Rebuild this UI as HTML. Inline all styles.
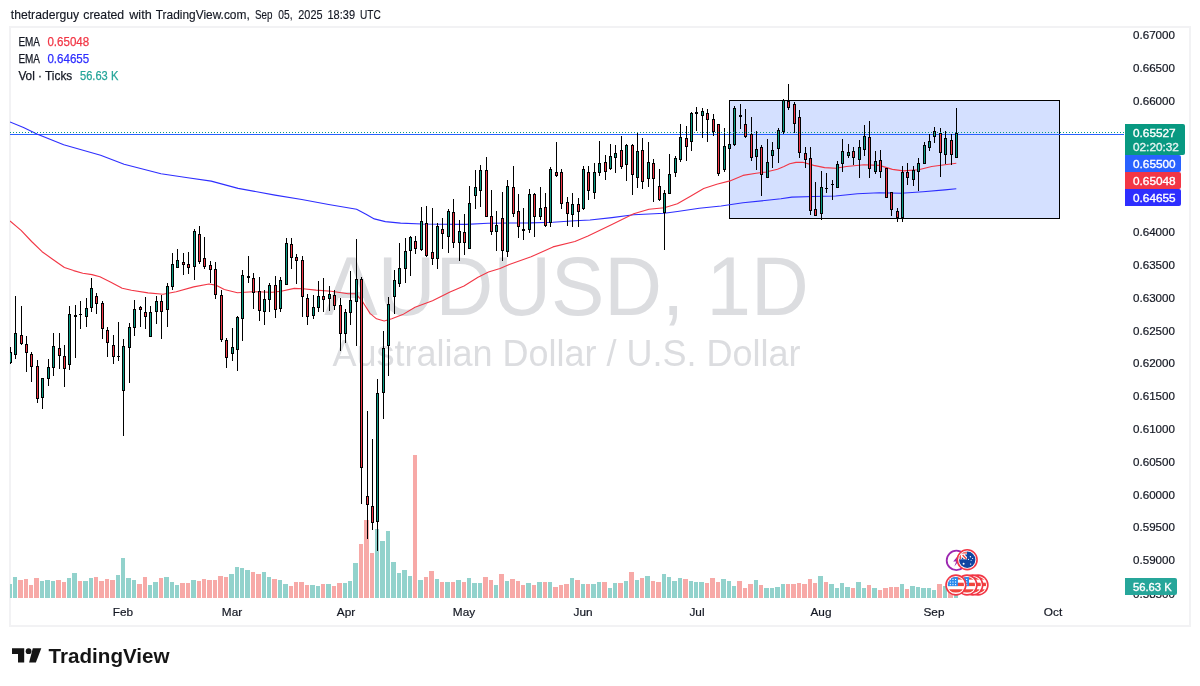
<!DOCTYPE html>
<html lang="en"><head><meta charset="utf-8"><title>AUDUSD 1D - TradingView</title>
<style>
html,body{margin:0;padding:0;background:#fff;}
body{width:1200px;height:686px;overflow:hidden;font-family:"Liberation Sans",sans-serif;}
svg{display:block;}
text{font-family:"Liberation Sans",sans-serif;}
.ax{font-size:11.8px;fill:#131722;stroke:#131722;stroke-width:0.2px;}
.tag{font-size:11.8px;fill:#fff;stroke:#fff;stroke-width:0.35px;}
.lg{font-size:12.4px;fill:#131722;stroke-width:0.25px;}
</style></head><body>
<svg width="1200" height="686" viewBox="0 0 1200 686">
<rect width="1200" height="686" fill="#fff"/>

<text y="18.8" font-size="13" fill="#131722" stroke="#131722" stroke-width="0.15"><tspan x="10.8" textLength="68.4" lengthAdjust="spacingAndGlyphs">thetraderguy</tspan> <tspan x="83.3" textLength="40.9" lengthAdjust="spacingAndGlyphs">created</tspan> <tspan x="129.2" textLength="22.5" lengthAdjust="spacingAndGlyphs">with</tspan> <tspan x="155.8" textLength="93.9" lengthAdjust="spacingAndGlyphs">TradingView.com,</tspan> <tspan x="255" textLength="17.5" lengthAdjust="spacingAndGlyphs">Sep</tspan> <tspan x="278.3" textLength="14.2" lengthAdjust="spacingAndGlyphs">05,</tspan> <tspan x="298.3" textLength="24.2" lengthAdjust="spacingAndGlyphs">2025</tspan> <tspan x="327.5" textLength="27.5" lengthAdjust="spacingAndGlyphs">18:39</tspan> <tspan x="360" textLength="20.8" lengthAdjust="spacingAndGlyphs">UTC</tspan></text>
<rect x="10" y="27" width="1180" height="599" fill="#fff" stroke="#f2f2f4" stroke-width="2" shape-rendering="crispEdges"/>
<defs><clipPath id="cp"><rect x="10" y="28" width="1114" height="597"/></clipPath></defs>
<g clip-path="url(#cp)">
<text transform="translate(566.5,315) scale(1,1.053)" x="0" y="0" font-size="80" text-anchor="middle" fill="#dcdde0">AUDUSD, 1D</text>
<text transform="translate(566.5,365.6) scale(1,1.04)" x="0" y="0" font-size="36" text-anchor="middle" fill="#dcdde0">Australian Dollar / U.S. Dollar</text>
<rect x="729.5" y="100.5" width="330" height="118" fill="#d4e0ff" stroke="#000" stroke-width="1" shape-rendering="crispEdges"/>
<g shape-rendering="crispEdges">
<rect x="7" y="584" width="5" height="14" fill="#92d2cc"/>
<rect x="13" y="577" width="4" height="21" fill="#92d2cc"/>
<rect x="18" y="580" width="5" height="18" fill="#f7a9a7"/>
<rect x="24" y="579" width="4" height="19" fill="#f7a9a7"/>
<rect x="29" y="585" width="4" height="13" fill="#f7a9a7"/>
<rect x="34" y="578" width="5" height="20" fill="#f7a9a7"/>
<rect x="40" y="581" width="4" height="17" fill="#92d2cc"/>
<rect x="45" y="580" width="5" height="18" fill="#92d2cc"/>
<rect x="51" y="581" width="4" height="17" fill="#92d2cc"/>
<rect x="56" y="580" width="5" height="18" fill="#f7a9a7"/>
<rect x="62" y="582" width="4" height="16" fill="#f7a9a7"/>
<rect x="67" y="578" width="4" height="20" fill="#92d2cc"/>
<rect x="72" y="573" width="5" height="25" fill="#92d2cc"/>
<rect x="78" y="581" width="4" height="17" fill="#f7a9a7"/>
<rect x="83" y="581" width="5" height="17" fill="#92d2cc"/>
<rect x="89" y="578" width="4" height="20" fill="#92d2cc"/>
<rect x="94" y="577" width="4" height="21" fill="#f7a9a7"/>
<rect x="99" y="581" width="5" height="17" fill="#f7a9a7"/>
<rect x="105" y="579" width="4" height="19" fill="#f7a9a7"/>
<rect x="110" y="580" width="5" height="18" fill="#f7a9a7"/>
<rect x="116" y="575" width="4" height="23" fill="#92d2cc"/>
<rect x="121" y="558" width="4" height="40" fill="#92d2cc"/>
<rect x="126" y="578" width="5" height="20" fill="#92d2cc"/>
<rect x="132" y="580" width="4" height="18" fill="#92d2cc"/>
<rect x="137" y="584" width="5" height="14" fill="#f7a9a7"/>
<rect x="143" y="577" width="4" height="21" fill="#f7a9a7"/>
<rect x="148" y="585" width="4" height="13" fill="#92d2cc"/>
<rect x="153" y="582" width="5" height="16" fill="#92d2cc"/>
<rect x="159" y="578" width="4" height="20" fill="#f7a9a7"/>
<rect x="164" y="577" width="5" height="21" fill="#92d2cc"/>
<rect x="170" y="582" width="4" height="16" fill="#92d2cc"/>
<rect x="175" y="585" width="4" height="13" fill="#92d2cc"/>
<rect x="180" y="583" width="5" height="15" fill="#f7a9a7"/>
<rect x="186" y="583" width="4" height="15" fill="#f7a9a7"/>
<rect x="191" y="580" width="5" height="18" fill="#92d2cc"/>
<rect x="197" y="581" width="4" height="17" fill="#f7a9a7"/>
<rect x="202" y="579" width="4" height="19" fill="#f7a9a7"/>
<rect x="207" y="580" width="5" height="18" fill="#f7a9a7"/>
<rect x="213" y="580" width="4" height="18" fill="#f7a9a7"/>
<rect x="218" y="576" width="5" height="22" fill="#f7a9a7"/>
<rect x="224" y="577" width="4" height="21" fill="#f7a9a7"/>
<rect x="229" y="574" width="5" height="24" fill="#92d2cc"/>
<rect x="235" y="567" width="4" height="31" fill="#92d2cc"/>
<rect x="240" y="568" width="4" height="30" fill="#92d2cc"/>
<rect x="245" y="570" width="5" height="28" fill="#92d2cc"/>
<rect x="251" y="572" width="4" height="26" fill="#f7a9a7"/>
<rect x="256" y="574" width="5" height="24" fill="#f7a9a7"/>
<rect x="262" y="572" width="4" height="26" fill="#92d2cc"/>
<rect x="267" y="577" width="4" height="21" fill="#92d2cc"/>
<rect x="272" y="579" width="5" height="19" fill="#f7a9a7"/>
<rect x="278" y="580" width="4" height="18" fill="#92d2cc"/>
<rect x="283" y="584" width="5" height="14" fill="#92d2cc"/>
<rect x="289" y="586" width="4" height="12" fill="#f7a9a7"/>
<rect x="294" y="582" width="4" height="16" fill="#f7a9a7"/>
<rect x="299" y="582" width="5" height="16" fill="#f7a9a7"/>
<rect x="305" y="585" width="4" height="13" fill="#f7a9a7"/>
<rect x="310" y="585" width="5" height="13" fill="#92d2cc"/>
<rect x="316" y="586" width="4" height="12" fill="#92d2cc"/>
<rect x="321" y="584" width="4" height="14" fill="#f7a9a7"/>
<rect x="326" y="584" width="5" height="14" fill="#92d2cc"/>
<rect x="332" y="586" width="4" height="12" fill="#f7a9a7"/>
<rect x="337" y="583" width="5" height="15" fill="#f7a9a7"/>
<rect x="343" y="583" width="4" height="15" fill="#92d2cc"/>
<rect x="348" y="581" width="4" height="17" fill="#92d2cc"/>
<rect x="353" y="563" width="5" height="35" fill="#92d2cc"/>
<rect x="359" y="544" width="4" height="54" fill="#f7a9a7"/>
<rect x="364" y="520" width="5" height="78" fill="#f7a9a7"/>
<rect x="370" y="553" width="4" height="45" fill="#f7a9a7"/>
<rect x="375" y="529" width="4" height="69" fill="#92d2cc"/>
<rect x="380" y="541" width="5" height="57" fill="#92d2cc"/>
<rect x="386" y="531" width="4" height="67" fill="#92d2cc"/>
<rect x="391" y="562" width="5" height="36" fill="#92d2cc"/>
<rect x="397" y="573" width="4" height="25" fill="#92d2cc"/>
<rect x="402" y="570" width="5" height="28" fill="#92d2cc"/>
<rect x="408" y="576" width="4" height="22" fill="#92d2cc"/>
<rect x="413" y="455" width="4" height="143" fill="#f7a9a7"/>
<rect x="418" y="580" width="5" height="18" fill="#92d2cc"/>
<rect x="424" y="577" width="4" height="21" fill="#f7a9a7"/>
<rect x="429" y="571" width="5" height="27" fill="#f7a9a7"/>
<rect x="435" y="579" width="4" height="19" fill="#92d2cc"/>
<rect x="440" y="582" width="4" height="16" fill="#f7a9a7"/>
<rect x="445" y="582" width="5" height="16" fill="#92d2cc"/>
<rect x="451" y="582" width="4" height="16" fill="#f7a9a7"/>
<rect x="456" y="580" width="5" height="18" fill="#92d2cc"/>
<rect x="462" y="582" width="4" height="16" fill="#f7a9a7"/>
<rect x="467" y="578" width="4" height="20" fill="#92d2cc"/>
<rect x="472" y="583" width="5" height="15" fill="#92d2cc"/>
<rect x="478" y="583" width="4" height="15" fill="#92d2cc"/>
<rect x="483" y="577" width="5" height="21" fill="#f7a9a7"/>
<rect x="489" y="580" width="4" height="18" fill="#f7a9a7"/>
<rect x="494" y="585" width="4" height="13" fill="#92d2cc"/>
<rect x="499" y="574" width="5" height="24" fill="#f7a9a7"/>
<rect x="505" y="581" width="4" height="17" fill="#92d2cc"/>
<rect x="510" y="579" width="5" height="19" fill="#f7a9a7"/>
<rect x="516" y="581" width="4" height="17" fill="#f7a9a7"/>
<rect x="521" y="585" width="4" height="13" fill="#f7a9a7"/>
<rect x="526" y="583" width="5" height="15" fill="#92d2cc"/>
<rect x="532" y="585" width="4" height="13" fill="#f7a9a7"/>
<rect x="537" y="582" width="5" height="16" fill="#92d2cc"/>
<rect x="543" y="582" width="4" height="16" fill="#f7a9a7"/>
<rect x="548" y="582" width="4" height="16" fill="#92d2cc"/>
<rect x="553" y="587" width="5" height="11" fill="#f7a9a7"/>
<rect x="559" y="585" width="4" height="13" fill="#f7a9a7"/>
<rect x="564" y="584" width="5" height="14" fill="#f7a9a7"/>
<rect x="570" y="578" width="4" height="20" fill="#92d2cc"/>
<rect x="575" y="580" width="5" height="18" fill="#f7a9a7"/>
<rect x="581" y="584" width="4" height="14" fill="#92d2cc"/>
<rect x="586" y="584" width="4" height="14" fill="#f7a9a7"/>
<rect x="591" y="584" width="5" height="14" fill="#92d2cc"/>
<rect x="597" y="582" width="4" height="16" fill="#92d2cc"/>
<rect x="602" y="582" width="5" height="16" fill="#f7a9a7"/>
<rect x="608" y="588" width="4" height="10" fill="#92d2cc"/>
<rect x="613" y="583" width="4" height="15" fill="#92d2cc"/>
<rect x="618" y="583" width="5" height="15" fill="#f7a9a7"/>
<rect x="624" y="581" width="4" height="17" fill="#92d2cc"/>
<rect x="629" y="572" width="5" height="26" fill="#f7a9a7"/>
<rect x="635" y="580" width="4" height="18" fill="#92d2cc"/>
<rect x="640" y="578" width="4" height="20" fill="#f7a9a7"/>
<rect x="645" y="576" width="5" height="22" fill="#92d2cc"/>
<rect x="651" y="581" width="4" height="17" fill="#f7a9a7"/>
<rect x="656" y="582" width="5" height="16" fill="#f7a9a7"/>
<rect x="662" y="574" width="4" height="24" fill="#92d2cc"/>
<rect x="667" y="577" width="4" height="21" fill="#92d2cc"/>
<rect x="672" y="581" width="5" height="17" fill="#92d2cc"/>
<rect x="678" y="578" width="4" height="20" fill="#92d2cc"/>
<rect x="683" y="579" width="5" height="19" fill="#f7a9a7"/>
<rect x="689" y="581" width="4" height="17" fill="#92d2cc"/>
<rect x="694" y="582" width="4" height="16" fill="#92d2cc"/>
<rect x="699" y="582" width="5" height="16" fill="#92d2cc"/>
<rect x="705" y="583" width="4" height="15" fill="#f7a9a7"/>
<rect x="710" y="578" width="5" height="20" fill="#f7a9a7"/>
<rect x="716" y="582" width="4" height="16" fill="#f7a9a7"/>
<rect x="721" y="579" width="5" height="19" fill="#92d2cc"/>
<rect x="727" y="581" width="4" height="17" fill="#92d2cc"/>
<rect x="732" y="586" width="4" height="12" fill="#92d2cc"/>
<rect x="737" y="581" width="5" height="17" fill="#f7a9a7"/>
<rect x="743" y="587.5" width="4" height="10.5" fill="#f7a9a7"/>
<rect x="748" y="584" width="5" height="14" fill="#f7a9a7"/>
<rect x="754" y="580" width="4" height="18" fill="#92d2cc"/>
<rect x="759" y="585" width="4" height="13" fill="#f7a9a7"/>
<rect x="764" y="588" width="5" height="10" fill="#92d2cc"/>
<rect x="770" y="588" width="4" height="10" fill="#92d2cc"/>
<rect x="775" y="587" width="5" height="11" fill="#92d2cc"/>
<rect x="781" y="584" width="4" height="14" fill="#92d2cc"/>
<rect x="786" y="584" width="4" height="14" fill="#f7a9a7"/>
<rect x="791" y="584" width="5" height="14" fill="#f7a9a7"/>
<rect x="797" y="583" width="4" height="15" fill="#f7a9a7"/>
<rect x="802" y="584" width="5" height="14" fill="#f7a9a7"/>
<rect x="808" y="579" width="4" height="19" fill="#f7a9a7"/>
<rect x="813" y="583" width="4" height="15" fill="#f7a9a7"/>
<rect x="818" y="576" width="5" height="22" fill="#92d2cc"/>
<rect x="824" y="582" width="4" height="16" fill="#f7a9a7"/>
<rect x="829" y="584" width="5" height="14" fill="#92d2cc"/>
<rect x="835" y="587.5" width="4" height="10.5" fill="#92d2cc"/>
<rect x="840" y="583" width="4" height="15" fill="#92d2cc"/>
<rect x="845" y="587" width="5" height="11" fill="#92d2cc"/>
<rect x="851" y="588" width="4" height="10" fill="#f7a9a7"/>
<rect x="856" y="582" width="5" height="16" fill="#92d2cc"/>
<rect x="862" y="588" width="4" height="10" fill="#92d2cc"/>
<rect x="867" y="585" width="4" height="13" fill="#f7a9a7"/>
<rect x="872" y="588" width="5" height="10" fill="#92d2cc"/>
<rect x="878" y="590" width="4" height="8" fill="#f7a9a7"/>
<rect x="883" y="588" width="5" height="10" fill="#f7a9a7"/>
<rect x="889" y="587" width="4" height="11" fill="#f7a9a7"/>
<rect x="894" y="587" width="5" height="11" fill="#f7a9a7"/>
<rect x="900" y="584" width="4" height="14" fill="#92d2cc"/>
<rect x="905" y="589" width="4" height="9" fill="#f7a9a7"/>
<rect x="910" y="586" width="5" height="12" fill="#92d2cc"/>
<rect x="916" y="587" width="4" height="11" fill="#92d2cc"/>
<rect x="921" y="588" width="5" height="10" fill="#92d2cc"/>
<rect x="927" y="588" width="4" height="10" fill="#92d2cc"/>
<rect x="932" y="590" width="4" height="8" fill="#92d2cc"/>
<rect x="937" y="584" width="5" height="14" fill="#f7a9a7"/>
<rect x="943" y="586" width="4" height="12" fill="#92d2cc"/>
<rect x="948" y="590" width="5" height="8" fill="#f7a9a7"/>
<rect x="954" y="594" width="4" height="4" fill="#92d2cc"/>
</g>
<line x1="10" y1="134.5" x2="1124" y2="134.5" stroke="#2962ff" stroke-width="1" shape-rendering="crispEdges"/>
<path d="M10,122 L23.5,127.4 L36.9,134.1 L63.7,144.8 L100.6,155.2 L124.1,164.3 L161,173.7 L187.8,177.7 L211.2,181.1 L238.1,188.4 L275,195.1 L301.8,199.5 L328.6,204.5 L356.6,209.2 L366,214.2 L374.3,218.9 L385.3,221.6 L400.6,223.1 L422.4,224 L444.3,224.3 L466.1,224.4 L488,223.2 L509.9,223 L531.1,222.9 L553,222.2 L574.9,220.7 L590,220 L611.9,217.6 L633.7,214.8 L664.3,213.2 L677.4,211.5 L699.3,208.2 L721.1,206 L743,202.7 L764.9,200.5 L780.9,198.7 L791.9,197.1 L813.7,196.5 L835.6,196 L857.4,193.8 L879.3,192.8 L901.2,193.2 L923,191.7 L944.9,189.9 L956.3,188.8" fill="none" stroke="#2e2eff" stroke-width="1.1" stroke-linejoin="round"/>
<path d="M10,221 L21.1,230.3 L31.6,241.5 L42.1,251.7 L52.6,259.2 L64.4,267.5 L73.6,270.6 L82.8,273.3 L92,274.6 L99.9,276.7 L110.4,281.9 L122.2,288.3 L131.4,290.3 L148,292.9 L163.1,294.3 L176.2,291.7 L193.7,286.9 L209,284 L215.6,285.1 L224.3,289.5 L237.4,292.8 L252.7,291.7 L272.4,292.3 L281.1,291.2 L294.3,288.4 L303,288.8 L316.1,290.1 L331.4,291.2 L348.1,293.7 L355.8,293.7 L362.3,301.3 L370,313.4 L376.5,318.8 L384.2,321 L391.8,318.8 L402.7,314.6 L415,307.3 L432.5,300.8 L450,292.1 L464,286 L478,277.2 L488.5,272 L500,268.5 L509.3,264.4 L531.1,256.8 L553,246.9 L574.9,241.5 L588,236 L611.9,224.6 L633.7,213.7 L649,209.3 L664.3,207.8 L677.4,203.8 L690.5,196.2 L703.7,188.5 L716.8,184.2 L729.9,180.9 L743,175.4 L756.1,173.2 L766,172 L777.5,169.2 L784,166.5 L789.7,163.8 L796,162.4 L802.8,162.2 L813.7,165.4 L824.6,167.6 L835.6,168.3 L846.5,166.5 L864,164.8 L879.3,165.4 L892.4,169.4 L903.3,170.9 L918.6,169.8 L931.7,166.5 L944.9,164.8 L956.3,163.2" fill="none" stroke="#f23645" stroke-width="1.1" stroke-linejoin="round"/>
<g shape-rendering="crispEdges">
<rect x="10" y="347" width="1" height="17" fill="#000"/>
<rect x="9" y="352" width="3" height="11" fill="#000"/><rect x="10" y="353" width="1" height="9" fill="#089981"/>
<rect x="15" y="296" width="1" height="63" fill="#000"/>
<rect x="14" y="333" width="3" height="22" fill="#000"/><rect x="15" y="334" width="1" height="20" fill="#089981"/>
<rect x="21" y="306" width="1" height="39" fill="#000"/>
<rect x="20" y="335" width="3" height="9" fill="#000"/><rect x="21" y="336" width="1" height="7" fill="#f23645"/>
<rect x="26" y="336" width="1" height="36" fill="#000"/>
<rect x="25" y="344" width="3" height="9" fill="#000"/><rect x="26" y="345" width="1" height="7" fill="#f23645"/>
<rect x="31" y="352" width="1" height="30" fill="#000"/>
<rect x="30" y="354" width="3" height="13" fill="#000"/><rect x="31" y="355" width="1" height="11" fill="#f23645"/>
<rect x="37" y="360" width="1" height="43" fill="#000"/>
<rect x="36" y="366" width="3" height="33" fill="#000"/><rect x="37" y="367" width="1" height="31" fill="#f23645"/>
<rect x="42" y="378" width="1" height="31" fill="#000"/>
<rect x="41" y="378" width="3" height="20" fill="#000"/><rect x="42" y="379" width="1" height="18" fill="#089981"/>
<rect x="48" y="359" width="1" height="27" fill="#000"/>
<rect x="47" y="367" width="3" height="12" fill="#000"/><rect x="48" y="368" width="1" height="10" fill="#089981"/>
<rect x="53" y="333" width="1" height="43" fill="#000"/>
<rect x="52" y="346" width="3" height="22" fill="#000"/><rect x="53" y="347" width="1" height="20" fill="#089981"/>
<rect x="59" y="333" width="1" height="36" fill="#000"/>
<rect x="58" y="348" width="3" height="8" fill="#000"/><rect x="59" y="349" width="1" height="6" fill="#f23645"/>
<rect x="64" y="345" width="1" height="42" fill="#000"/>
<rect x="63" y="356" width="3" height="13" fill="#000"/><rect x="64" y="357" width="1" height="11" fill="#f23645"/>
<rect x="69" y="306" width="1" height="64" fill="#000"/>
<rect x="68" y="314" width="3" height="51" fill="#000"/><rect x="69" y="315" width="1" height="49" fill="#089981"/>
<rect x="75" y="305" width="1" height="53" fill="#000"/>
<rect x="74" y="315" width="3" height="2" fill="#000"/>
<rect x="80" y="301" width="1" height="28" fill="#000"/>
<rect x="79" y="314" width="3" height="1" fill="#000"/>
<rect x="86" y="298" width="1" height="29" fill="#000"/>
<rect x="85" y="308" width="3" height="9" fill="#000"/><rect x="86" y="309" width="1" height="7" fill="#089981"/>
<rect x="91" y="278" width="1" height="34" fill="#000"/>
<rect x="90" y="288" width="3" height="20" fill="#000"/><rect x="91" y="289" width="1" height="18" fill="#089981"/>
<rect x="96" y="293" width="1" height="21" fill="#000"/>
<rect x="95" y="296" width="3" height="8" fill="#000"/><rect x="96" y="297" width="1" height="6" fill="#f23645"/>
<rect x="102" y="301" width="1" height="38" fill="#000"/>
<rect x="101" y="303" width="3" height="26" fill="#000"/><rect x="102" y="304" width="1" height="24" fill="#f23645"/>
<rect x="107" y="327" width="1" height="30" fill="#000"/>
<rect x="106" y="330" width="3" height="13" fill="#000"/><rect x="107" y="331" width="1" height="11" fill="#f23645"/>
<rect x="113" y="335" width="1" height="29" fill="#000"/>
<rect x="112" y="345" width="3" height="12" fill="#000"/><rect x="113" y="346" width="1" height="10" fill="#f23645"/>
<rect x="118" y="322" width="1" height="39" fill="#000"/>
<rect x="117" y="356" width="3" height="1" fill="#000"/>
<rect x="123" y="339" width="1" height="97" fill="#000"/>
<rect x="122" y="346" width="3" height="45" fill="#000"/><rect x="123" y="347" width="1" height="43" fill="#089981"/>
<rect x="129" y="323" width="1" height="60" fill="#000"/>
<rect x="128" y="327" width="3" height="21" fill="#000"/><rect x="129" y="328" width="1" height="19" fill="#089981"/>
<rect x="134" y="300" width="1" height="36" fill="#000"/>
<rect x="133" y="309" width="3" height="19" fill="#000"/><rect x="134" y="310" width="1" height="17" fill="#089981"/>
<rect x="140" y="306" width="1" height="21" fill="#000"/>
<rect x="139" y="307" width="3" height="3" fill="#000"/><rect x="140" y="308" width="1" height="1" fill="#f23645"/>
<rect x="145" y="297" width="1" height="32" fill="#000"/>
<rect x="144" y="312" width="3" height="5" fill="#000"/><rect x="145" y="313" width="1" height="3" fill="#f23645"/>
<rect x="150" y="306" width="1" height="31" fill="#000"/>
<rect x="149" y="312" width="3" height="25" fill="#000"/><rect x="150" y="313" width="1" height="23" fill="#089981"/>
<rect x="156" y="296" width="1" height="28" fill="#000"/>
<rect x="155" y="301" width="3" height="11" fill="#000"/><rect x="156" y="302" width="1" height="9" fill="#089981"/>
<rect x="161" y="295" width="1" height="44" fill="#000"/>
<rect x="160" y="301" width="3" height="11" fill="#000"/><rect x="161" y="302" width="1" height="9" fill="#f23645"/>
<rect x="167" y="283" width="1" height="44" fill="#000"/>
<rect x="166" y="286" width="3" height="24" fill="#000"/><rect x="167" y="287" width="1" height="22" fill="#089981"/>
<rect x="172" y="253" width="1" height="37" fill="#000"/>
<rect x="171" y="264" width="3" height="23" fill="#000"/><rect x="172" y="265" width="1" height="21" fill="#089981"/>
<rect x="177" y="249" width="1" height="19" fill="#000"/>
<rect x="176" y="260" width="3" height="8" fill="#000"/><rect x="177" y="261" width="1" height="6" fill="#089981"/>
<rect x="183" y="253" width="1" height="22" fill="#000"/>
<rect x="182" y="262" width="3" height="3" fill="#000"/><rect x="183" y="263" width="1" height="1" fill="#f23645"/>
<rect x="188" y="252" width="1" height="22" fill="#000"/>
<rect x="187" y="264" width="3" height="4" fill="#000"/><rect x="188" y="265" width="1" height="2" fill="#f23645"/>
<rect x="194" y="229" width="1" height="51" fill="#000"/>
<rect x="193" y="231" width="3" height="36" fill="#000"/><rect x="194" y="232" width="1" height="34" fill="#089981"/>
<rect x="199" y="226" width="1" height="38" fill="#000"/>
<rect x="198" y="234" width="3" height="28" fill="#000"/><rect x="199" y="235" width="1" height="26" fill="#f23645"/>
<rect x="204" y="237" width="1" height="32" fill="#000"/>
<rect x="203" y="258" width="3" height="9" fill="#000"/><rect x="204" y="259" width="1" height="7" fill="#f23645"/>
<rect x="210" y="261" width="1" height="22" fill="#000"/>
<rect x="209" y="265" width="3" height="5" fill="#000"/><rect x="210" y="266" width="1" height="3" fill="#f23645"/>
<rect x="215" y="262" width="1" height="37" fill="#000"/>
<rect x="214" y="269" width="3" height="26" fill="#000"/><rect x="215" y="270" width="1" height="24" fill="#f23645"/>
<rect x="221" y="290" width="1" height="52" fill="#000"/>
<rect x="220" y="295" width="3" height="45" fill="#000"/><rect x="221" y="296" width="1" height="43" fill="#f23645"/>
<rect x="226" y="338" width="1" height="30" fill="#000"/>
<rect x="225" y="340" width="3" height="18" fill="#000"/><rect x="226" y="341" width="1" height="16" fill="#f23645"/>
<rect x="232" y="328" width="1" height="33" fill="#000"/>
<rect x="231" y="347" width="3" height="7" fill="#000"/><rect x="232" y="348" width="1" height="5" fill="#089981"/>
<rect x="237" y="316" width="1" height="55" fill="#000"/>
<rect x="236" y="317" width="3" height="33" fill="#000"/><rect x="237" y="318" width="1" height="31" fill="#089981"/>
<rect x="242" y="270" width="1" height="71" fill="#000"/>
<rect x="241" y="275" width="3" height="44" fill="#000"/><rect x="242" y="276" width="1" height="42" fill="#089981"/>
<rect x="248" y="256" width="1" height="27" fill="#000"/>
<rect x="247" y="276" width="3" height="2" fill="#000"/>
<rect x="253" y="273" width="1" height="36" fill="#000"/>
<rect x="252" y="278" width="3" height="15" fill="#000"/><rect x="253" y="279" width="1" height="13" fill="#f23645"/>
<rect x="259" y="277" width="1" height="44" fill="#000"/>
<rect x="258" y="291" width="3" height="20" fill="#000"/><rect x="259" y="292" width="1" height="18" fill="#f23645"/>
<rect x="264" y="290" width="1" height="35" fill="#000"/>
<rect x="263" y="299" width="3" height="13" fill="#000"/><rect x="264" y="300" width="1" height="11" fill="#089981"/>
<rect x="269" y="283" width="1" height="29" fill="#000"/>
<rect x="268" y="285" width="3" height="15" fill="#000"/><rect x="269" y="286" width="1" height="13" fill="#089981"/>
<rect x="275" y="276" width="1" height="42" fill="#000"/>
<rect x="274" y="285" width="3" height="25" fill="#000"/><rect x="275" y="286" width="1" height="23" fill="#f23645"/>
<rect x="280" y="277" width="1" height="35" fill="#000"/>
<rect x="279" y="280" width="3" height="29" fill="#000"/><rect x="280" y="281" width="1" height="27" fill="#089981"/>
<rect x="286" y="238" width="1" height="47" fill="#000"/>
<rect x="285" y="243" width="3" height="42" fill="#000"/><rect x="286" y="244" width="1" height="40" fill="#089981"/>
<rect x="291" y="238" width="1" height="31" fill="#000"/>
<rect x="290" y="244" width="3" height="14" fill="#000"/><rect x="291" y="245" width="1" height="12" fill="#f23645"/>
<rect x="296" y="254" width="1" height="30" fill="#000"/>
<rect x="295" y="257" width="3" height="4" fill="#000"/><rect x="296" y="258" width="1" height="2" fill="#f23645"/>
<rect x="302" y="256" width="1" height="61" fill="#000"/>
<rect x="301" y="260" width="3" height="37" fill="#000"/><rect x="302" y="261" width="1" height="35" fill="#f23645"/>
<rect x="307" y="294" width="1" height="31" fill="#000"/>
<rect x="306" y="298" width="3" height="19" fill="#000"/><rect x="307" y="299" width="1" height="17" fill="#f23645"/>
<rect x="313" y="295" width="1" height="24" fill="#000"/>
<rect x="312" y="307" width="3" height="9" fill="#000"/><rect x="313" y="308" width="1" height="7" fill="#089981"/>
<rect x="318" y="281" width="1" height="31" fill="#000"/>
<rect x="317" y="296" width="3" height="12" fill="#000"/><rect x="318" y="297" width="1" height="10" fill="#089981"/>
<rect x="323" y="278" width="1" height="34" fill="#000"/>
<rect x="322" y="296" width="3" height="4" fill="#000"/><rect x="323" y="297" width="1" height="2" fill="#f23645"/>
<rect x="329" y="286" width="1" height="25" fill="#000"/>
<rect x="328" y="294" width="3" height="5" fill="#000"/><rect x="329" y="295" width="1" height="3" fill="#089981"/>
<rect x="334" y="290" width="1" height="20" fill="#000"/>
<rect x="333" y="295" width="3" height="11" fill="#000"/><rect x="334" y="296" width="1" height="9" fill="#f23645"/>
<rect x="340" y="298" width="1" height="53" fill="#000"/>
<rect x="339" y="305" width="3" height="29" fill="#000"/><rect x="340" y="306" width="1" height="27" fill="#f23645"/>
<rect x="345" y="309" width="1" height="34" fill="#000"/>
<rect x="344" y="312" width="3" height="22" fill="#000"/><rect x="345" y="313" width="1" height="20" fill="#089981"/>
<rect x="350" y="271" width="1" height="54" fill="#000"/>
<rect x="349" y="300" width="3" height="13" fill="#000"/><rect x="350" y="301" width="1" height="11" fill="#089981"/>
<rect x="356" y="239" width="1" height="107" fill="#000"/>
<rect x="355" y="279" width="3" height="23" fill="#000"/><rect x="356" y="280" width="1" height="21" fill="#089981"/>
<rect x="361" y="277" width="1" height="227" fill="#000"/>
<rect x="360" y="279" width="3" height="189" fill="#000"/><rect x="361" y="280" width="1" height="187" fill="#f23645"/>
<rect x="367" y="411" width="1" height="128" fill="#000"/>
<rect x="366" y="496" width="3" height="9" fill="#000"/><rect x="367" y="497" width="1" height="7" fill="#f23645"/>
<rect x="372" y="439" width="1" height="91" fill="#000"/>
<rect x="371" y="506" width="3" height="17" fill="#000"/><rect x="372" y="507" width="1" height="15" fill="#f23645"/>
<rect x="377" y="379" width="1" height="172" fill="#000"/>
<rect x="376" y="393" width="3" height="129" fill="#000"/><rect x="377" y="394" width="1" height="127" fill="#089981"/>
<rect x="383" y="331" width="1" height="88" fill="#000"/>
<rect x="382" y="348" width="3" height="45" fill="#000"/><rect x="383" y="349" width="1" height="43" fill="#089981"/>
<rect x="388" y="297" width="1" height="79" fill="#000"/>
<rect x="387" y="304" width="3" height="42" fill="#000"/><rect x="388" y="305" width="1" height="40" fill="#089981"/>
<rect x="394" y="270" width="1" height="44" fill="#000"/>
<rect x="393" y="280" width="3" height="17" fill="#000"/><rect x="394" y="281" width="1" height="15" fill="#089981"/>
<rect x="399" y="243" width="1" height="44" fill="#000"/>
<rect x="398" y="268" width="3" height="16" fill="#000"/><rect x="399" y="269" width="1" height="14" fill="#089981"/>
<rect x="405" y="238" width="1" height="45" fill="#000"/>
<rect x="404" y="251" width="3" height="18" fill="#000"/><rect x="405" y="252" width="1" height="16" fill="#089981"/>
<rect x="410" y="236" width="1" height="40" fill="#000"/>
<rect x="409" y="237" width="3" height="14" fill="#000"/><rect x="410" y="238" width="1" height="12" fill="#089981"/>
<rect x="415" y="236" width="1" height="18" fill="#000"/>
<rect x="414" y="241" width="3" height="8" fill="#000"/><rect x="415" y="242" width="1" height="6" fill="#f23645"/>
<rect x="421" y="207" width="1" height="44" fill="#000"/>
<rect x="420" y="221" width="3" height="29" fill="#000"/><rect x="421" y="222" width="1" height="27" fill="#089981"/>
<rect x="426" y="206" width="1" height="51" fill="#000"/>
<rect x="425" y="223" width="3" height="33" fill="#000"/><rect x="426" y="224" width="1" height="31" fill="#f23645"/>
<rect x="432" y="208" width="1" height="57" fill="#000"/>
<rect x="431" y="252" width="3" height="7" fill="#000"/><rect x="432" y="253" width="1" height="5" fill="#f23645"/>
<rect x="437" y="223" width="1" height="46" fill="#000"/>
<rect x="436" y="226" width="3" height="33" fill="#000"/><rect x="437" y="227" width="1" height="31" fill="#089981"/>
<rect x="442" y="218" width="1" height="31" fill="#000"/>
<rect x="441" y="229" width="3" height="5" fill="#000"/><rect x="442" y="230" width="1" height="3" fill="#f23645"/>
<rect x="448" y="209" width="1" height="44" fill="#000"/>
<rect x="447" y="211" width="3" height="26" fill="#000"/><rect x="448" y="212" width="1" height="24" fill="#089981"/>
<rect x="453" y="199" width="1" height="49" fill="#000"/>
<rect x="452" y="212" width="3" height="31" fill="#000"/><rect x="453" y="213" width="1" height="29" fill="#f23645"/>
<rect x="459" y="220" width="1" height="41" fill="#000"/>
<rect x="458" y="231" width="3" height="12" fill="#000"/><rect x="459" y="232" width="1" height="10" fill="#089981"/>
<rect x="464" y="214" width="1" height="41" fill="#000"/>
<rect x="463" y="232" width="3" height="11" fill="#000"/><rect x="464" y="233" width="1" height="9" fill="#f23645"/>
<rect x="469" y="186" width="1" height="63" fill="#000"/>
<rect x="468" y="203" width="3" height="46" fill="#000"/><rect x="469" y="204" width="1" height="44" fill="#089981"/>
<rect x="475" y="170" width="1" height="39" fill="#000"/>
<rect x="474" y="187" width="3" height="9" fill="#000"/><rect x="475" y="188" width="1" height="7" fill="#089981"/>
<rect x="480" y="165" width="1" height="42" fill="#000"/>
<rect x="479" y="170" width="3" height="21" fill="#000"/><rect x="480" y="171" width="1" height="19" fill="#089981"/>
<rect x="486" y="157" width="1" height="60" fill="#000"/>
<rect x="485" y="170" width="3" height="47" fill="#000"/><rect x="486" y="171" width="1" height="45" fill="#f23645"/>
<rect x="491" y="190" width="1" height="45" fill="#000"/>
<rect x="490" y="216" width="3" height="16" fill="#000"/><rect x="491" y="217" width="1" height="14" fill="#f23645"/>
<rect x="496" y="211" width="1" height="40" fill="#000"/>
<rect x="495" y="225" width="3" height="7" fill="#000"/><rect x="496" y="226" width="1" height="5" fill="#089981"/>
<rect x="502" y="192" width="1" height="69" fill="#000"/>
<rect x="501" y="218" width="3" height="33" fill="#000"/><rect x="502" y="219" width="1" height="31" fill="#f23645"/>
<rect x="507" y="180" width="1" height="77" fill="#000"/>
<rect x="506" y="186" width="3" height="66" fill="#000"/><rect x="507" y="187" width="1" height="64" fill="#089981"/>
<rect x="513" y="166" width="1" height="51" fill="#000"/>
<rect x="512" y="187" width="3" height="27" fill="#000"/><rect x="513" y="188" width="1" height="25" fill="#f23645"/>
<rect x="518" y="194" width="1" height="44" fill="#000"/>
<rect x="517" y="211" width="3" height="16" fill="#000"/><rect x="518" y="212" width="1" height="14" fill="#f23645"/>
<rect x="523" y="208" width="1" height="32" fill="#000"/>
<rect x="522" y="229" width="3" height="2" fill="#000"/>
<rect x="529" y="189" width="1" height="44" fill="#000"/>
<rect x="528" y="194" width="3" height="36" fill="#000"/><rect x="529" y="195" width="1" height="34" fill="#089981"/>
<rect x="534" y="193" width="1" height="44" fill="#000"/>
<rect x="533" y="194" width="3" height="23" fill="#000"/><rect x="534" y="195" width="1" height="21" fill="#f23645"/>
<rect x="540" y="187" width="1" height="33" fill="#000"/>
<rect x="539" y="208" width="3" height="9" fill="#000"/><rect x="540" y="209" width="1" height="7" fill="#089981"/>
<rect x="545" y="193" width="1" height="34" fill="#000"/>
<rect x="544" y="207" width="3" height="19" fill="#000"/><rect x="545" y="208" width="1" height="17" fill="#f23645"/>
<rect x="550" y="167" width="1" height="60" fill="#000"/>
<rect x="549" y="169" width="3" height="54" fill="#000"/><rect x="550" y="170" width="1" height="52" fill="#089981"/>
<rect x="556" y="142" width="1" height="35" fill="#000"/>
<rect x="555" y="172" width="3" height="4" fill="#000"/><rect x="556" y="173" width="1" height="2" fill="#f23645"/>
<rect x="561" y="169" width="1" height="40" fill="#000"/>
<rect x="560" y="172" width="3" height="32" fill="#000"/><rect x="561" y="173" width="1" height="30" fill="#f23645"/>
<rect x="567" y="197" width="1" height="29" fill="#000"/>
<rect x="566" y="202" width="3" height="12" fill="#000"/><rect x="567" y="203" width="1" height="10" fill="#f23645"/>
<rect x="572" y="193" width="1" height="34" fill="#000"/>
<rect x="571" y="204" width="3" height="11" fill="#000"/><rect x="572" y="205" width="1" height="9" fill="#089981"/>
<rect x="578" y="198" width="1" height="29" fill="#000"/>
<rect x="577" y="204" width="3" height="8" fill="#000"/><rect x="578" y="205" width="1" height="6" fill="#f23645"/>
<rect x="583" y="166" width="1" height="44" fill="#000"/>
<rect x="582" y="169" width="3" height="40" fill="#000"/><rect x="583" y="170" width="1" height="38" fill="#089981"/>
<rect x="588" y="166" width="1" height="34" fill="#000"/>
<rect x="587" y="172" width="3" height="19" fill="#000"/><rect x="588" y="173" width="1" height="17" fill="#f23645"/>
<rect x="594" y="163" width="1" height="36" fill="#000"/>
<rect x="593" y="172" width="3" height="21" fill="#000"/><rect x="594" y="173" width="1" height="19" fill="#089981"/>
<rect x="599" y="141" width="1" height="35" fill="#000"/>
<rect x="598" y="163" width="3" height="10" fill="#000"/><rect x="599" y="164" width="1" height="8" fill="#089981"/>
<rect x="605" y="155" width="1" height="25" fill="#000"/>
<rect x="604" y="162" width="3" height="10" fill="#000"/><rect x="605" y="163" width="1" height="8" fill="#f23645"/>
<rect x="610" y="144" width="1" height="26" fill="#000"/>
<rect x="609" y="156" width="3" height="13" fill="#000"/><rect x="610" y="157" width="1" height="11" fill="#089981"/>
<rect x="615" y="145" width="1" height="28" fill="#000"/>
<rect x="614" y="153" width="3" height="5" fill="#000"/><rect x="615" y="154" width="1" height="3" fill="#089981"/>
<rect x="621" y="136" width="1" height="33" fill="#000"/>
<rect x="620" y="150" width="3" height="17" fill="#000"/><rect x="621" y="151" width="1" height="15" fill="#f23645"/>
<rect x="626" y="144" width="1" height="37" fill="#000"/>
<rect x="625" y="145" width="3" height="20" fill="#000"/><rect x="626" y="146" width="1" height="18" fill="#089981"/>
<rect x="632" y="144" width="1" height="51" fill="#000"/>
<rect x="631" y="145" width="3" height="30" fill="#000"/><rect x="632" y="146" width="1" height="28" fill="#f23645"/>
<rect x="637" y="132" width="1" height="56" fill="#000"/>
<rect x="636" y="151" width="3" height="27" fill="#000"/><rect x="637" y="152" width="1" height="25" fill="#089981"/>
<rect x="642" y="138" width="1" height="51" fill="#000"/>
<rect x="641" y="150" width="3" height="32" fill="#000"/><rect x="642" y="151" width="1" height="30" fill="#f23645"/>
<rect x="648" y="142" width="1" height="45" fill="#000"/>
<rect x="647" y="162" width="3" height="17" fill="#000"/><rect x="648" y="163" width="1" height="15" fill="#089981"/>
<rect x="653" y="159" width="1" height="43" fill="#000"/>
<rect x="652" y="163" width="3" height="16" fill="#000"/><rect x="653" y="164" width="1" height="14" fill="#f23645"/>
<rect x="659" y="169" width="1" height="32" fill="#000"/>
<rect x="658" y="186" width="3" height="14" fill="#000"/><rect x="659" y="187" width="1" height="12" fill="#f23645"/>
<rect x="664" y="190" width="1" height="60" fill="#000"/>
<rect x="663" y="193" width="3" height="20" fill="#000"/><rect x="664" y="194" width="1" height="18" fill="#089981"/>
<rect x="669" y="154" width="1" height="40" fill="#000"/>
<rect x="668" y="174" width="3" height="20" fill="#000"/><rect x="669" y="175" width="1" height="18" fill="#089981"/>
<rect x="675" y="156" width="1" height="21" fill="#000"/>
<rect x="674" y="158" width="3" height="15" fill="#000"/><rect x="675" y="159" width="1" height="13" fill="#089981"/>
<rect x="680" y="124" width="1" height="38" fill="#000"/>
<rect x="679" y="137" width="3" height="23" fill="#000"/><rect x="680" y="138" width="1" height="21" fill="#089981"/>
<rect x="686" y="126" width="1" height="35" fill="#000"/>
<rect x="685" y="138" width="3" height="9" fill="#000"/><rect x="686" y="139" width="1" height="7" fill="#f23645"/>
<rect x="691" y="112" width="1" height="39" fill="#000"/>
<rect x="690" y="113" width="3" height="29" fill="#000"/><rect x="691" y="114" width="1" height="27" fill="#089981"/>
<rect x="696" y="107" width="1" height="24" fill="#000"/>
<rect x="695" y="112" width="3" height="2" fill="#000"/>
<rect x="702" y="108" width="1" height="30" fill="#000"/>
<rect x="701" y="111" width="3" height="5" fill="#000"/><rect x="702" y="112" width="1" height="3" fill="#089981"/>
<rect x="707" y="109" width="1" height="33" fill="#000"/>
<rect x="706" y="113" width="3" height="7" fill="#000"/><rect x="707" y="114" width="1" height="5" fill="#f23645"/>
<rect x="713" y="114" width="1" height="22" fill="#000"/>
<rect x="712" y="119" width="3" height="13" fill="#000"/><rect x="713" y="120" width="1" height="11" fill="#f23645"/>
<rect x="718" y="124" width="1" height="52" fill="#000"/>
<rect x="717" y="124" width="3" height="50" fill="#000"/><rect x="718" y="125" width="1" height="48" fill="#f23645"/>
<rect x="724" y="128" width="1" height="44" fill="#000"/>
<rect x="723" y="146" width="3" height="24" fill="#000"/><rect x="724" y="147" width="1" height="22" fill="#089981"/>
<rect x="729" y="133" width="1" height="16" fill="#000"/>
<rect x="728" y="144" width="3" height="5" fill="#000"/><rect x="729" y="145" width="1" height="3" fill="#089981"/>
<rect x="734" y="106" width="1" height="40" fill="#000"/>
<rect x="733" y="108" width="3" height="37" fill="#000"/><rect x="734" y="109" width="1" height="35" fill="#089981"/>
<rect x="740" y="104" width="1" height="25" fill="#000"/>
<rect x="739" y="115" width="3" height="2" fill="#000"/>
<rect x="745" y="109" width="1" height="29" fill="#000"/>
<rect x="744" y="124" width="3" height="13" fill="#000"/><rect x="745" y="125" width="1" height="11" fill="#f23645"/>
<rect x="751" y="117" width="1" height="44" fill="#000"/>
<rect x="750" y="134" width="3" height="24" fill="#000"/><rect x="751" y="135" width="1" height="22" fill="#f23645"/>
<rect x="756" y="131" width="1" height="39" fill="#000"/>
<rect x="755" y="149" width="3" height="8" fill="#000"/><rect x="756" y="150" width="1" height="6" fill="#089981"/>
<rect x="761" y="145" width="1" height="51" fill="#000"/>
<rect x="760" y="147" width="3" height="28" fill="#000"/><rect x="761" y="148" width="1" height="26" fill="#f23645"/>
<rect x="767" y="139" width="1" height="39" fill="#000"/>
<rect x="766" y="162" width="3" height="16" fill="#000"/><rect x="767" y="163" width="1" height="14" fill="#089981"/>
<rect x="772" y="142" width="1" height="26" fill="#000"/>
<rect x="771" y="150" width="3" height="6" fill="#000"/><rect x="772" y="151" width="1" height="4" fill="#089981"/>
<rect x="778" y="128" width="1" height="35" fill="#000"/>
<rect x="777" y="130" width="3" height="19" fill="#000"/><rect x="778" y="131" width="1" height="17" fill="#089981"/>
<rect x="783" y="99" width="1" height="35" fill="#000"/>
<rect x="782" y="100" width="3" height="32" fill="#000"/><rect x="783" y="101" width="1" height="30" fill="#089981"/>
<rect x="788" y="84" width="1" height="26" fill="#000"/>
<rect x="787" y="101" width="3" height="7" fill="#000"/><rect x="788" y="102" width="1" height="5" fill="#f23645"/>
<rect x="794" y="102" width="1" height="31" fill="#000"/>
<rect x="793" y="104" width="3" height="20" fill="#000"/><rect x="794" y="105" width="1" height="18" fill="#f23645"/>
<rect x="799" y="110" width="1" height="48" fill="#000"/>
<rect x="798" y="117" width="3" height="36" fill="#000"/><rect x="799" y="118" width="1" height="34" fill="#f23645"/>
<rect x="805" y="147" width="1" height="21" fill="#000"/>
<rect x="804" y="153" width="3" height="7" fill="#000"/><rect x="805" y="154" width="1" height="5" fill="#f23645"/>
<rect x="810" y="147" width="1" height="68" fill="#000"/>
<rect x="809" y="158" width="3" height="53" fill="#000"/><rect x="810" y="159" width="1" height="51" fill="#f23645"/>
<rect x="815" y="182" width="1" height="34" fill="#000"/>
<rect x="814" y="209" width="3" height="7" fill="#000"/><rect x="815" y="210" width="1" height="5" fill="#f23645"/>
<rect x="821" y="171" width="1" height="49" fill="#000"/>
<rect x="820" y="187" width="3" height="27" fill="#000"/><rect x="821" y="188" width="1" height="25" fill="#089981"/>
<rect x="826" y="173" width="1" height="20" fill="#000"/>
<rect x="825" y="188" width="3" height="1" fill="#000"/>
<rect x="832" y="180" width="1" height="20" fill="#000"/>
<rect x="831" y="184" width="3" height="1" fill="#000"/>
<rect x="837" y="161" width="1" height="27" fill="#000"/>
<rect x="836" y="164" width="3" height="24" fill="#000"/><rect x="837" y="165" width="1" height="22" fill="#089981"/>
<rect x="842" y="139" width="1" height="33" fill="#000"/>
<rect x="841" y="151" width="3" height="13" fill="#000"/><rect x="842" y="152" width="1" height="11" fill="#089981"/>
<rect x="848" y="144" width="1" height="14" fill="#000"/>
<rect x="847" y="152" width="3" height="4" fill="#000"/><rect x="848" y="153" width="1" height="2" fill="#089981"/>
<rect x="853" y="147" width="1" height="18" fill="#000"/>
<rect x="852" y="151" width="3" height="7" fill="#000"/><rect x="853" y="152" width="1" height="5" fill="#f23645"/>
<rect x="859" y="140" width="1" height="38" fill="#000"/>
<rect x="858" y="147" width="3" height="13" fill="#000"/><rect x="859" y="148" width="1" height="11" fill="#089981"/>
<rect x="864" y="125" width="1" height="31" fill="#000"/>
<rect x="863" y="136" width="3" height="14" fill="#000"/><rect x="864" y="137" width="1" height="12" fill="#089981"/>
<rect x="869" y="121" width="1" height="57" fill="#000"/>
<rect x="868" y="137" width="3" height="32" fill="#000"/><rect x="869" y="138" width="1" height="30" fill="#f23645"/>
<rect x="875" y="151" width="1" height="23" fill="#000"/>
<rect x="874" y="161" width="3" height="11" fill="#000"/><rect x="875" y="162" width="1" height="9" fill="#089981"/>
<rect x="880" y="150" width="1" height="28" fill="#000"/>
<rect x="879" y="160" width="3" height="12" fill="#000"/><rect x="880" y="161" width="1" height="10" fill="#f23645"/>
<rect x="886" y="168" width="1" height="30" fill="#000"/>
<rect x="885" y="168" width="3" height="30" fill="#000"/><rect x="886" y="169" width="1" height="28" fill="#f23645"/>
<rect x="891" y="192" width="1" height="24" fill="#000"/>
<rect x="890" y="192" width="3" height="18" fill="#000"/><rect x="891" y="193" width="1" height="16" fill="#f23645"/>
<rect x="897" y="208" width="1" height="14" fill="#000"/>
<rect x="896" y="211" width="3" height="7" fill="#000"/><rect x="897" y="212" width="1" height="5" fill="#f23645"/>
<rect x="902" y="166" width="1" height="56" fill="#000"/>
<rect x="901" y="172" width="3" height="46" fill="#000"/><rect x="902" y="173" width="1" height="44" fill="#089981"/>
<rect x="907" y="163" width="1" height="22" fill="#000"/>
<rect x="906" y="172" width="3" height="6" fill="#000"/><rect x="907" y="173" width="1" height="4" fill="#f23645"/>
<rect x="913" y="166" width="1" height="20" fill="#000"/>
<rect x="912" y="170" width="3" height="10" fill="#000"/><rect x="913" y="171" width="1" height="8" fill="#089981"/>
<rect x="918" y="158" width="1" height="33" fill="#000"/>
<rect x="917" y="163" width="3" height="9" fill="#000"/><rect x="918" y="164" width="1" height="7" fill="#089981"/>
<rect x="924" y="142" width="1" height="22" fill="#000"/>
<rect x="923" y="145" width="3" height="19" fill="#000"/><rect x="924" y="146" width="1" height="17" fill="#089981"/>
<rect x="929" y="134" width="1" height="17" fill="#000"/>
<rect x="928" y="141" width="3" height="7" fill="#000"/><rect x="929" y="142" width="1" height="5" fill="#089981"/>
<rect x="934" y="127" width="1" height="16" fill="#000"/>
<rect x="933" y="131" width="3" height="6" fill="#000"/><rect x="934" y="132" width="1" height="4" fill="#089981"/>
<rect x="940" y="128" width="1" height="49" fill="#000"/>
<rect x="939" y="133" width="3" height="20" fill="#000"/><rect x="940" y="134" width="1" height="18" fill="#f23645"/>
<rect x="945" y="131" width="1" height="33" fill="#000"/>
<rect x="944" y="138" width="3" height="17" fill="#000"/><rect x="945" y="139" width="1" height="15" fill="#089981"/>
<rect x="951" y="134" width="1" height="31" fill="#000"/>
<rect x="950" y="140" width="3" height="15" fill="#000"/><rect x="951" y="141" width="1" height="13" fill="#f23645"/>
<rect x="956" y="108" width="1" height="50" fill="#000"/>
<rect x="955" y="133" width="3" height="25" fill="#000"/><rect x="956" y="134" width="1" height="23" fill="#089981"/>
</g>
<line x1="10" y1="132.5" x2="1124" y2="132.5" stroke="#089981" stroke-width="1" stroke-dasharray="1 2" shape-rendering="crispEdges"/>
</g>
<text x="123" y="615.7" class="ax" text-anchor="middle">Feb</text>
<text x="232" y="615.7" class="ax" text-anchor="middle">Mar</text>
<text x="346" y="615.7" class="ax" text-anchor="middle">Apr</text>
<text x="464" y="615.7" class="ax" text-anchor="middle">May</text>
<text x="583" y="615.7" class="ax" text-anchor="middle">Jun</text>
<text x="697" y="615.7" class="ax" text-anchor="middle">Jul</text>
<text x="821" y="615.7" class="ax" text-anchor="middle">Aug</text>
<text x="934" y="615.7" class="ax" text-anchor="middle">Sep</text>
<text x="1053" y="615.7" class="ax" text-anchor="middle">Oct</text>
<text x="1133" y="39.3" class="ax" textLength="42" lengthAdjust="spacingAndGlyphs">0.67000</text>
<text x="1133" y="72.1" class="ax" textLength="42" lengthAdjust="spacingAndGlyphs">0.66500</text>
<text x="1133" y="104.9" class="ax" textLength="42" lengthAdjust="spacingAndGlyphs">0.66000</text>
<text x="1133" y="137.7" class="ax" textLength="42" lengthAdjust="spacingAndGlyphs">0.65500</text>
<text x="1133" y="170.5" class="ax" textLength="42" lengthAdjust="spacingAndGlyphs">0.65000</text>
<text x="1133" y="203.3" class="ax" textLength="42" lengthAdjust="spacingAndGlyphs">0.64500</text>
<text x="1133" y="236.1" class="ax" textLength="42" lengthAdjust="spacingAndGlyphs">0.64000</text>
<text x="1133" y="268.9" class="ax" textLength="42" lengthAdjust="spacingAndGlyphs">0.63500</text>
<text x="1133" y="301.7" class="ax" textLength="42" lengthAdjust="spacingAndGlyphs">0.63000</text>
<text x="1133" y="334.5" class="ax" textLength="42" lengthAdjust="spacingAndGlyphs">0.62500</text>
<text x="1133" y="367.3" class="ax" textLength="42" lengthAdjust="spacingAndGlyphs">0.62000</text>
<text x="1133" y="400.1" class="ax" textLength="42" lengthAdjust="spacingAndGlyphs">0.61500</text>
<text x="1133" y="432.9" class="ax" textLength="42" lengthAdjust="spacingAndGlyphs">0.61000</text>
<text x="1133" y="465.7" class="ax" textLength="42" lengthAdjust="spacingAndGlyphs">0.60500</text>
<text x="1133" y="498.5" class="ax" textLength="42" lengthAdjust="spacingAndGlyphs">0.60000</text>
<text x="1133" y="531.3" class="ax" textLength="42" lengthAdjust="spacingAndGlyphs">0.59500</text>
<text x="1133" y="564.1" class="ax" textLength="42" lengthAdjust="spacingAndGlyphs">0.59000</text>
<text x="1133" y="597.6" class="ax" textLength="42" lengthAdjust="spacingAndGlyphs">0.58500</text>
<path d="M1125 124h58a2 2 0 0 1 2 2v27a2 2 0 0 1 -2 2h-58z" fill="#089981"/>
<text x="1133" y="136.8" class="tag">0.65527</text><text x="1133" y="150.6" class="tag" fill-opacity="0.75">02:20:32</text>
<path d="M1125 155h54a2 2 0 0 1 2 2v13a2 2 0 0 1 -2 2h-54z" fill="#2962ff"/><text x="1133" y="167.5" class="tag">0.65500</text>
<path d="M1125 172h54a2 2 0 0 1 2 2v13a2 2 0 0 1 -2 2h-54z" fill="#f23645"/><text x="1133" y="184.6" class="tag">0.65048</text>
<path d="M1125 189h54a2 2 0 0 1 2 2v13a2 2 0 0 1 -2 2h-54z" fill="#2e2eff"/><text x="1133" y="201.6" class="tag">0.64655</text>
<path d="M1125 578h50a2 2 0 0 1 2 2v13a2 2 0 0 1 -2 2h-50z" fill="#26a69a"/><text x="1133" y="590.8" class="tag" textLength="38.7" lengthAdjust="spacingAndGlyphs">56.63 K</text>
<text x="18.4" y="45.7" class="lg" textLength="21.6" lengthAdjust="spacingAndGlyphs" style="stroke:#131722">EMA</text>
<text x="47.4" y="45.7" class="lg" textLength="41.8" lengthAdjust="spacingAndGlyphs" style="fill:#f23645;stroke:#f23645">0.65048</text>
<text x="18.4" y="62.7" class="lg" textLength="21.6" lengthAdjust="spacingAndGlyphs" style="stroke:#131722">EMA</text>
<text x="47.4" y="62.7" class="lg" textLength="41.8" lengthAdjust="spacingAndGlyphs" style="fill:#2e2eff;stroke:#2e2eff">0.64655</text>
<text x="18.4" y="79.7" class="lg" textLength="53.8" lengthAdjust="spacingAndGlyphs" style="stroke:#131722">Vol · Ticks</text>
<text x="80" y="79.7" class="lg" textLength="38.3" lengthAdjust="spacingAndGlyphs" style="fill:#26a69a;stroke:#26a69a">56.63 K</text>
<g><g><circle cx="978" cy="585" r="9.9" fill="#fff" stroke="#f23645" stroke-width="1.6"/><clipPath id="u4"><circle cx="978" cy="585" r="8.1"/></clipPath><g clip-path="url(#u4)"><rect x="969" y="576" width="18" height="18" fill="#fff"/><rect x="969" y="576.8" width="18" height="2.8" fill="#f0453c"/><rect x="969" y="582.7" width="18" height="3.4" fill="#f0453c"/><rect x="969" y="589.3" width="18" height="3.2" fill="#f0453c"/><rect x="969" y="576" width="11" height="10.1" fill="#2a8bee"/><rect x="971.9" y="578.9" width="1.1" height="1.1" fill="#fff"/><rect x="971.9" y="581.5" width="1.1" height="1.1" fill="#fff"/><rect x="971.9" y="584.1" width="1.1" height="1.1" fill="#fff"/><rect x="974.5" y="578.9" width="1.1" height="1.1" fill="#fff"/><rect x="974.5" y="581.5" width="1.1" height="1.1" fill="#fff"/><rect x="974.5" y="584.1" width="1.1" height="1.1" fill="#fff"/><rect x="977.1" y="578.9" width="1.1" height="1.1" fill="#fff"/><rect x="977.1" y="581.5" width="1.1" height="1.1" fill="#fff"/><rect x="977.1" y="584.1" width="1.1" height="1.1" fill="#fff"/></g></g><g><circle cx="972.8" cy="585" r="9.9" fill="#fff" stroke="#f23645" stroke-width="1.6"/><clipPath id="u3"><circle cx="972.8" cy="585" r="8.1"/></clipPath><g clip-path="url(#u3)"><rect x="963.8" y="576" width="18" height="18" fill="#fff"/><rect x="963.8" y="576.8" width="18" height="2.8" fill="#f0453c"/><rect x="963.8" y="582.7" width="18" height="3.4" fill="#f0453c"/><rect x="963.8" y="589.3" width="18" height="3.2" fill="#f0453c"/><rect x="963.8" y="576" width="11" height="10.1" fill="#2a8bee"/><rect x="966.7" y="578.9" width="1.1" height="1.1" fill="#fff"/><rect x="966.7" y="581.5" width="1.1" height="1.1" fill="#fff"/><rect x="966.7" y="584.1" width="1.1" height="1.1" fill="#fff"/><rect x="969.3" y="578.9" width="1.1" height="1.1" fill="#fff"/><rect x="969.3" y="581.5" width="1.1" height="1.1" fill="#fff"/><rect x="969.3" y="584.1" width="1.1" height="1.1" fill="#fff"/><rect x="971.9" y="578.9" width="1.1" height="1.1" fill="#fff"/><rect x="971.9" y="581.5" width="1.1" height="1.1" fill="#fff"/><rect x="971.9" y="584.1" width="1.1" height="1.1" fill="#fff"/></g></g><g><circle cx="967" cy="585" r="9.9" fill="#fff" stroke="#f23645" stroke-width="1.6"/><clipPath id="u2"><circle cx="967" cy="585" r="8.1"/></clipPath><g clip-path="url(#u2)"><rect x="958" y="576" width="18" height="18" fill="#fff"/><rect x="958" y="576.8" width="18" height="2.8" fill="#f0453c"/><rect x="958" y="582.7" width="18" height="3.4" fill="#f0453c"/><rect x="958" y="589.3" width="18" height="3.2" fill="#f0453c"/><rect x="958" y="576" width="11" height="10.1" fill="#2a8bee"/><rect x="960.9" y="578.9" width="1.1" height="1.1" fill="#fff"/><rect x="960.9" y="581.5" width="1.1" height="1.1" fill="#fff"/><rect x="960.9" y="584.1" width="1.1" height="1.1" fill="#fff"/><rect x="963.5" y="578.9" width="1.1" height="1.1" fill="#fff"/><rect x="963.5" y="581.5" width="1.1" height="1.1" fill="#fff"/><rect x="963.5" y="584.1" width="1.1" height="1.1" fill="#fff"/><rect x="966.1" y="578.9" width="1.1" height="1.1" fill="#fff"/><rect x="966.1" y="581.5" width="1.1" height="1.1" fill="#fff"/><rect x="966.1" y="584.1" width="1.1" height="1.1" fill="#fff"/></g></g><g><circle cx="955.9" cy="585" r="9.9" fill="#fff" stroke="#f23645" stroke-width="1.6"/><clipPath id="u1"><circle cx="955.9" cy="585" r="8.1"/></clipPath><g clip-path="url(#u1)"><rect x="946.9" y="576" width="18" height="18" fill="#fff"/><rect x="946.9" y="576.8" width="18" height="2.8" fill="#f0453c"/><rect x="946.9" y="582.7" width="18" height="3.4" fill="#f0453c"/><rect x="946.9" y="589.3" width="18" height="3.2" fill="#f0453c"/><rect x="946.9" y="576" width="11" height="10.1" fill="#2a8bee"/><rect x="949.8" y="578.9" width="1.1" height="1.1" fill="#fff"/><rect x="949.8" y="581.5" width="1.1" height="1.1" fill="#fff"/><rect x="949.8" y="584.1" width="1.1" height="1.1" fill="#fff"/><rect x="952.4" y="578.9" width="1.1" height="1.1" fill="#fff"/><rect x="952.4" y="581.5" width="1.1" height="1.1" fill="#fff"/><rect x="952.4" y="584.1" width="1.1" height="1.1" fill="#fff"/><rect x="955.0" y="578.9" width="1.1" height="1.1" fill="#fff"/><rect x="955.0" y="581.5" width="1.1" height="1.1" fill="#fff"/><rect x="955.0" y="584.1" width="1.1" height="1.1" fill="#fff"/></g></g><circle cx="956.4" cy="560.4" r="9.7" fill="#fff" stroke="#9c27b0" stroke-width="1.8"/><path d="M958.6 555 L953.2 561.6 L956.2 561.6 L954.4 566.4 L959.8 559.4 L956.8 559.4 Z" fill="#9c27b0"/><circle cx="967.2" cy="559.7" r="9.9" fill="#fff" stroke="#f23645" stroke-width="1.6"/><clipPath id="au"><circle cx="967.2" cy="559.7" r="8.2"/></clipPath><g clip-path="url(#au)"><rect x="958.2" y="550.7" width="18" height="18" fill="#1045a1"/><rect x="958.2" y="550.7" width="8.8" height="8.6" fill="#fff"/><path d="M960.8 552.3h6.2v1.3h-6.2z M959.6 553.3h1.3v5.6h-1.3z" fill="#f0453c"/><path d="M962.6 555.1 L966.4 558.9" stroke="#f0453c" stroke-width="1.4" fill="none"/><path d="M964.6 554.5 L967.0 556.9 L967.0 554.5Z M961.8 557.1 L964.0 559.3 L961.8 559.3Z" fill="#1045a1"/><circle cx="963.6" cy="563.7" r="1.0" fill="#fff"/><circle cx="970.4" cy="556.7" r="0.7" fill="#fff"/><circle cx="972.6" cy="558.5" r="0.6" fill="#fff"/><circle cx="970.6" cy="564.1" r="0.7" fill="#fff"/><circle cx="968.5" cy="559.3" r="0.6" fill="#fff"/><circle cx="971.1" cy="560.5" r="0.5" fill="#fff"/></g></g>
<g fill="#151515">
<path d="M12 648.3h12.2v14.3H18v-8.5h-6z"/>
<circle cx="28.6" cy="651.2" r="2.9"/>
<path d="M32.8 648.3h8.5l-5.4 14.3h-6.8z"/>
<text x="48.6" y="662.5" font-size="20.6" font-weight="bold" fill="#151515" textLength="121" lengthAdjust="spacingAndGlyphs">TradingView</text>
</g>
</svg></body></html>
